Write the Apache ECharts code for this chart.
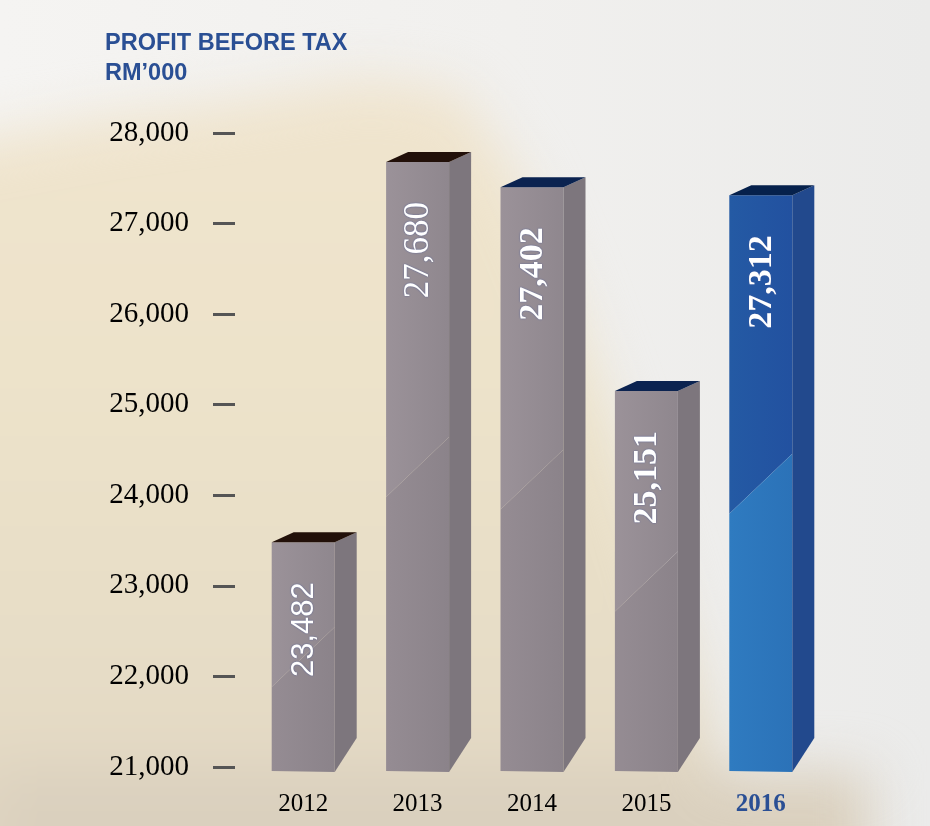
<!DOCTYPE html>
<html>
<head>
<meta charset="utf-8">
<title>Profit Before Tax</title>
<script src="https://cdn.jsdelivr.net/npm/echarts@6/dist/echarts.min.js"></script>
<style>
  html, body { margin: 0; padding: 0; }
  #wrap {
    position: relative;
    width: 930px;
    height: 826px;
    overflow: hidden;
    background: linear-gradient(to right, #f5f4f2 0%, #f1f0ee 55%, #ebebea 100%);
  }
  /* 背景的米色山丘（模糊） */
  #blur {
    position: absolute;
    left: 0; top: 0; width: 930px; height: 826px;
    filter: blur(26px);
  }
  #hill {
    position: absolute;
    left: -80px; top: 0; width: 1000px; height: 900px;
    clip-path: polygon(0 150px, 180px 118px, 320px 100px, 450px 78px, 540px 92px, 600px 180px, 650px 300px, 700px 440px, 750px 590px, 790px 720px, 830px 900px, 0 900px);
    background: linear-gradient(to bottom, #f0e4cf 0%, #ede3ca 40%, #e6dcc6 75%, #ddd2bf 100%);
  }
  #bottom {
    position: absolute;
    left: 0; top: 772px; width: 870px; height: 120px;
    background: #dad0be;
  }
  #chart {
    position: absolute;
    left: 0; top: 0; width: 930px; height: 826px;
  }
</style>
</head>
<body>
<div id="wrap">
  <div id="blur"><div id="hill"></div><div id="bottom"></div></div>
  <div id="chart"></div>
</div>
<script>
// 数据
var years = ['2012', '2013', '2014', '2015', '2016'];
var profit = [23482, 27680, 27402, 25151, 27312];
var yTicks = [21000, 22000, 23000, 24000, 25000, 26000, 27000, 28000];

// 样式（按柱子顺序）
var grey = {up: ['#9b9299', '#8f878e'], low: ['#958c93', '#8b838a'], side: '#7d767d'};
var blue = {up: ['#245aa4', '#2251a0'], low: ['#2f7bc0', '#2b72b8'], side: '#22498d'};
var barStyle = [grey, grey, grey, grey, blue];
var capColor = ['#221009', '#221009', '#0b2350', '#0b2350', '#06214c'];
var labelFont = ['Liberation Sans', 'Liberation Serif', 'Liberation Serif', 'Liberation Serif', 'Liberation Serif'];
var labelWeight = ['normal', 'normal', 'bold', 'bold', 'bold'];
var labelSize = [31, 35, 34, 34, 34];

var myChart = echarts.init(document.getElementById('chart'));

var W = 63, DX = 22, DY = 10;

function hGrad(c) {
    return new echarts.graphic.LinearGradient(0, 0, 1, 0, [
        {offset: 0, color: c[0]},
        {offset: 1, color: c[1]}
    ]);
}

function renderBar(params, api) {
    var i = params.dataIndex;
    var s = barStyle[i];
    var top = api.coord([api.value(0), api.value(1)]);
    var base = api.coord([api.value(0), yTicks[0]]);
    var cx = top[0], yt = top[1], yb = base[1] + 5;
    var x0 = cx - W / 2, x1 = cx + W / 2;
    // 正面斜线分割
    var ys = yt + (yb - yt) * 0.5;
    return {
        type: 'group',
        children: [
            {
                type: 'polygon',
                shape: {points: [[x0, yt], [x1, yt], [x1, ys - 30], [x0, ys + 30]]},
                style: {fill: hGrad(s.up)}
            },
            {
                type: 'polygon',
                shape: {points: [[x0, ys + 30], [x1, ys - 30], [x1, yb], [x0, yb - 1]]},
                style: {fill: hGrad(s.low)}
            },
            {
                type: 'polygon',
                shape: {points: [[x1, yt], [x1 + DX, yt - DY], [x1 + DX, yb - 34], [x1, yb]]},
                style: {fill: s.side}
            },
            {
                type: 'polygon',
                shape: {points: [[x0, yt], [x0 + DX, yt - DY], [x1 + DX, yt - DY], [x1, yt]]},
                style: {fill: capColor[i]}
            },
            {
                type: 'text',
                x: cx + 1,
                y: yt + 40,
                rotation: Math.PI / 2,
                style: {
                    text: echarts.format.addCommas(api.value(1)),
                    align: 'right',
                    verticalAlign: 'middle',
                    fill: '#ffffff',
                    fontFamily: labelFont[i],
                    fontWeight: labelWeight[i],
                    fontSize: labelSize[i],
                    textShadowColor: 'rgba(60,80,150,0.7)',
                    textShadowBlur: 2
                }
            }
        ]
    };
}

var xData = years.map(function (y, i) {
    if (i === years.length - 1) {
        return {value: y, textStyle: {color: '#2a4f94', fontWeight: 'bold'}};
    }
    return y;
});

var option = {
    backgroundColor: 'transparent',
    animation: false,
    title: {
        text: 'PROFIT BEFORE TAX\nRM\u2019000',
        left: 100,
        top: 24,
        textStyle: {
            fontFamily: 'Liberation Sans',
            fontWeight: 'bold',
            fontSize: 23.5,
            lineHeight: 30,
            color: '#2a4f94'
        }
    },
    grid: {left: 246, right: 112, top: 133, bottom: 59, containLabel: false},
    xAxis: {
        type: 'category',
        data: xData,
        axisLine: {show: false},
        axisTick: {show: false},
        axisLabel: {
            margin: 25,
            fontFamily: 'Liberation Serif',
            fontSize: 25,
            color: '#000'
        }
    },
    yAxis: {
        type: 'value',
        min: yTicks[0],
        max: yTicks[yTicks.length - 1],
        interval: 1000,
        offset: 11,
        splitLine: {show: false},
        axisLine: {show: false},
        axisTick: {show: true, length: 22, lineStyle: {color: '#555', width: 3}},
        axisLabel: {
            margin: 46,
            fontFamily: 'Liberation Serif',
            fontSize: 29,
            color: '#000',
            formatter: function (v) { return echarts.format.addCommas(v); }
        }
    },
    series: [{
        type: 'custom',
        renderItem: renderBar,
        data: profit.map(function (v, i) { return [i, v]; }),
        encode: {x: 0, y: 1},
        clip: false
    }]
};

myChart.setOption(option);
</script>
</body>
</html>
